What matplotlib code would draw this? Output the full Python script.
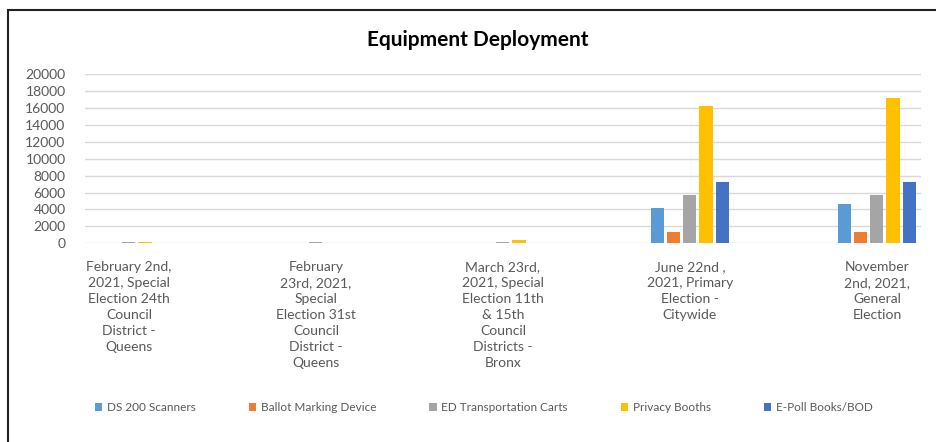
import matplotlib.pyplot as plt
import numpy as np
from matplotlib.patches import Rectangle

plt.rcParams['font.family'] = ['Lato', 'DejaVu Sans']

# --- data ---
categories = [
    "February 2nd,\n2021, Special\nElection 24th\nCouncil\nDistrict -\nQueens",
    "February\n23rd, 2021,\nSpecial\nElection 31st\nCouncil\nDistrict -\nQueens",
    "March 23rd,\n2021, Special\nElection 11th\n& 15th\nCouncil\nDistricts -\nBronx",
    "June 22nd ,\n2021, Primary\nElection -\nCitywide",
    "November\n2nd, 2021,\nGeneral\nElection",
]
series_names = ["DS 200 Scanners", "Ballot Marking Device", "ED Transportation Carts",
                "Privacy Booths", "E-Poll Books/BOD"]
ds200 = [30, 20, 40, 4200, 4650]
bmd = [30, 20, 40, 1300, 1300]
ed_carts = [150, 120, 200, 5700, 5700]
privacy = [120, 60, 450, 16250, 17200]
epoll = [60, 40, 80, 7200, 7300]
colors = ["#5B9BD5", "#ED7D31", "#A5A5A5", "#FFC000", "#4472C4"]

fig = plt.figure(figsize=(9.36, 4.42), dpi=100)
ax = fig.add_axes([0.0908, 0.4495, 0.893, 0.383])

x = np.arange(len(categories))
slot = 0.086
all_series = [ds200, bmd, ed_carts, privacy, epoll]
for i, (vals, name, c) in enumerate(zip(all_series, series_names, colors)):
    ax.bar(x + (i - 2) * slot, vals, width=0.07, color=c, label=name, zorder=3)

ax.set_xlim(-0.235, 4.235)
ax.set_ylim(0, 20000)
ax.set_yticks(range(0, 20001, 2000))
ax.yaxis.grid(True, color="#D9D9D9", linewidth=1, zorder=0)
for s in ax.spines.values():
    s.set_visible(False)
ax.tick_params(axis="both", length=0, colors="#595959")
ax.tick_params(axis="y", pad=14, labelsize=10)
ax.set_xticks(x)
ax.set_xticklabels(categories, fontsize=10, color="#595959", linespacing=1.39, va="top")
ax.tick_params(axis="x", pad=13)

fig.text(0.51, 0.91, "Equipment Deployment", ha="center", va="center",
         fontsize=15, fontweight="bold", color="black")

fig.legend(loc="center", bbox_to_anchor=(0.517, 0.078), ncol=5, frameon=False,
           fontsize=8.5, handlelength=0.6, handleheight=0.6, columnspacing=4.5,
           handletextpad=0.4, labelcolor="#595959")

# outer chart border (left and top edges visible in the reference)
fig.patches.append(Rectangle((8 / 936, -0.05), 1.1, 1 - 10 / 442 + 0.05,
                             transform=fig.transFigure, fill=False,
                             edgecolor="#222222", linewidth=1.5))

fig.savefig("out.png", dpi=100)
